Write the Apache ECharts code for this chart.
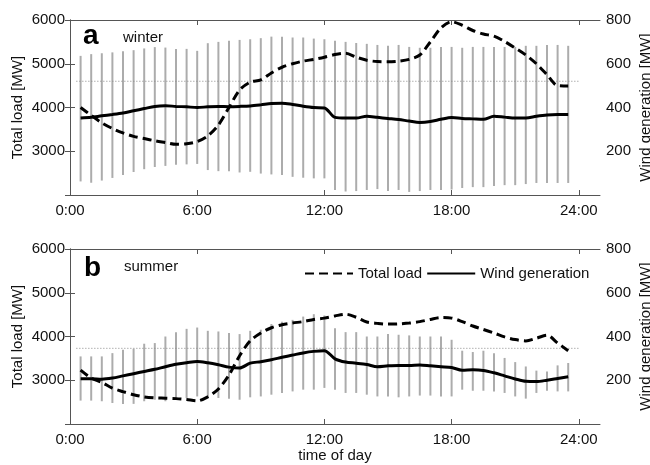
<!DOCTYPE html>
<html>
<head>
<meta charset="utf-8">
<script src="https://cdn.jsdelivr.net/npm/echarts@6/dist/echarts.min.js"></script>
<style>
  html, body { margin: 0; padding: 0; background: #fff; }
  #chart { width: 650px; height: 465px; }
</style>
</head>
<body>
<div id="chart"></div>
<script>
// time of day (h) for every half-hour sample
const hours = [0.5, 1, 1.5, 2, 2.5, 3, 3.5, 4, 4.5, 5, 5.5, 6, 6.5, 7, 7.5, 8, 8.5, 9, 9.5, 10,
  10.5, 11, 11.5, 12, 12.5, 13, 13.5, 14, 14.5, 15, 15.5, 16, 16.5, 17, 17.5, 18, 18.5, 19, 19.5,
  20, 20.5, 21, 21.5, 22, 22.5, 23, 23.5]
const timeTicks = [0, 6, 12, 18, 24]

// winter
const winterLoad = [4000, 3820, 3650, 3520, 3420, 3340, 3290, 3240, 3200, 3160, 3170, 3220, 3350,
  3600, 4000, 4400, 4580, 4630, 4790, 4920, 5000, 5060, 5100, 5150, 5210, 5240, 5150, 5080, 5050,
  5045, 5060, 5100, 5200, 5500, 5820, 5960, 5880, 5760, 5680, 5630, 5510, 5360, 5200, 5000, 4750,
  4500, 4490]
const winterWind = [352, 355, 362, 368, 375, 385, 395, 405, 408, 405, 403, 400, 403, 405, 404, 405,
  407, 412, 418, 420, 414, 406, 400, 398, 355, 352, 352, 360, 355, 350, 345, 338, 332, 336, 346,
  354, 350, 348, 346, 360, 356, 352, 352, 360, 366, 368, 368]
const winterWindHigh = [636, 644, 648, 652, 657, 662, 670, 676, 674, 668, 668, 659, 694, 700, 705,
  709, 712, 717, 724, 724, 720, 720, 715, 712, 705, 700, 695, 691, 686, 682, 686, 677, 673, 673,
  677, 677, 673, 677, 677, 677, 677, 677, 682, 682, 686, 686, 682]
const winterWindLow = [62, 56, 66, 78, 92, 105, 118, 128, 133, 138, 140, 142, 114, 109, 109, 103,
  106, 98, 94, 91, 83, 79, 76, 76, 23, 16, 18, 23, 27, 18, 23, 14, 18, 23, 23, 25, 32, 36, 36, 41,
  45, 45, 50, 55, 55, 55, 55]
const winterRef = 4600

// summer
const summerLoad = [3230, 3050, 2950, 2820, 2740, 2670, 2620, 2596, 2590, 2580, 2560, 2530, 2620,
  2800, 3120, 3560, 3900, 4080, 4200, 4270, 4310, 4340, 4390, 4420, 4470, 4510, 4440, 4330, 4300,
  4283, 4290, 4306, 4340, 4390, 4434, 4420, 4340, 4240, 4160, 4080, 3990, 3930, 3900, 3960, 4030,
  3850, 3674]
const summerWind = [207, 207, 205, 210, 220, 230, 240, 250, 262, 273, 280, 286, 280, 271, 260, 256,
  278, 285, 294, 305, 315, 325, 332, 335, 298, 283, 278, 272, 262, 266, 268, 268, 270, 266, 262,
  258, 246, 248, 245, 234, 220, 206, 195, 194, 200, 208, 216]
const summerWindHigh = [309, 309, 309, 324, 339, 344, 367, 370, 400, 420, 435, 441, 426, 423, 416,
  411, 426, 431, 457, 468, 476, 491, 502, 496, 438, 420, 420, 400, 400, 411, 408, 405, 400, 400,
  400, 385, 335, 329, 335, 324, 302, 283, 263, 244, 240, 268, 279]
const summerWindLow = [107, 107, 104, 96, 92, 92, 104, 111, 104, 119, 119, 126, 126, 119, 116, 111,
  122, 126, 134, 142, 149, 157, 157, 165, 157, 142, 142, 134, 126, 126, 122, 126, 130, 130, 126,
  126, 157, 152, 152, 149, 142, 126, 116, 142, 152, 149, 149]
const summerRef = 3730
const refSpan = [0.3, 24]

const FONT = "'Liberation Sans', Arial, sans-serif"
const frame = '#555'

const chart = echarts.init(document.getElementById('chart'))

const grids = [
  { left: 70, top: 20, width: 530, height: 175 },
  { left: 70, top: 249, width: 530, height: 175 },
]

const xAxes = []
const yAxes = []
grids.forEach((g, i) => {
  xAxes.push({
    type: 'value', gridIndex: i, min: 0, max: 25, position: 'bottom',
    name: i === 1 ? 'time of day' : '', nameLocation: 'middle', nameGap: 21,
    nameTextStyle: { fontFamily: FONT, fontSize: 15, color: '#111' },
    axisLine: { lineStyle: { color: frame } },
    axisTick: { inside: true, length: 5, lineStyle: { color: frame }, customValues: timeTicks },
    axisLabel: {
      customValues: timeTicks, margin: 8, fontFamily: FONT, fontSize: 15, color: '#111',
      formatter: v => v + ':00',
    },
    splitLine: { show: false },
  })
  xAxes.push({
    type: 'value', gridIndex: i, min: 0, max: 25, position: 'top',
    axisLine: { lineStyle: { color: frame } },
    axisTick: { inside: true, length: 5, lineStyle: { color: frame }, customValues: timeTicks },
    axisLabel: { show: false },
    splitLine: { show: false },
  })
  yAxes.push({
    type: 'value', gridIndex: i, min: 2000, max: 6000, interval: 1000, position: 'left',
    name: 'Total load [MW]', nameLocation: 'middle', nameRotate: 90, nameGap: 45,
    nameMoveOverlap: false,
    nameTextStyle: { fontFamily: FONT, fontSize: 15, color: '#111' },
    axisLine: { show: true, lineStyle: { color: frame } },
    axisTick: { show: true, inside: true, length: 5, lineStyle: { color: frame } },
    axisLabel: {
      margin: 5, fontFamily: FONT, fontSize: 15, color: '#111',
      formatter: v => (v === 2000 ? '' : String(v)),
    },
    splitLine: { show: false },
  })
  yAxes.push({
    type: 'value', gridIndex: i, min: 0, max: 800, interval: 200, position: 'right',
    name: 'Wind generation [MW]', nameLocation: 'middle', nameRotate: 90, nameGap: 38,
    nameMoveOverlap: false,
    nameTextStyle: { fontFamily: FONT, fontSize: 15, color: '#111' },
    axisLine: { show: true, lineStyle: { color: frame } },
    axisTick: { show: true, inside: true, length: 5, lineStyle: { color: frame } },
    axisLabel: {
      margin: 6, fontFamily: FONT, fontSize: 15, color: '#111',
      formatter: v => (v === 0 ? '' : String(v)),
    },
    splitLine: { show: false },
  })
})

// vertical grey range bars
const rangeBars = (i, high, low) => ({
  type: 'custom',
  xAxisIndex: i * 2,
  yAxisIndex: i * 2 + 1,
  silent: true,
  data: hours.map((h, k) => [h, low[k], high[k]]),
  encode: { x: 0, y: [1, 2] },
  renderItem: (params, api) => {
    const p1 = api.coord([api.value(0), api.value(1)])
    const p2 = api.coord([api.value(0), api.value(2)])
    return {
      type: 'line',
      shape: { x1: p1[0], y1: p1[1], x2: p2[0], y2: p2[1] },
      style: { stroke: '#acacac', lineWidth: 2 },
    }
  },
  z: 1,
})

const refLine = (i, val) => ({
  type: 'line',
  xAxisIndex: i * 2,
  yAxisIndex: i * 2,
  data: refSpan.map(h => [h, val]),
  symbol: 'none',
  silent: true,
  lineStyle: { color: '#888', width: 1, type: [1, 2] },
  z: 2,
})

const loadLine = (i, data) => ({
  name: 'Total load',
  type: 'line',
  xAxisIndex: i * 2,
  yAxisIndex: i * 2,
  data: hours.map((h, k) => [h, data[k]]),
  symbol: 'none',
  smooth: 0.3,
  lineStyle: { color: '#000', width: 3, type: [9, 5] },
  itemStyle: { color: '#000' },
  z: 3,
})

const windLine = (i, data) => ({
  name: 'Wind generation',
  type: 'line',
  xAxisIndex: i * 2,
  yAxisIndex: i * 2 + 1,
  data: hours.map((h, k) => [h, data[k]]),
  symbol: 'none',
  smooth: 0.3,
  lineStyle: { color: '#000', width: 3 },
  itemStyle: { color: '#000' },
  z: 4,
})

const option = {
  animation: false,
  backgroundColor: '#fff',
  grid: grids.map(g => ({ ...g, show: false, containLabel: false, outerBoundsMode: 'none' })),
  xAxis: xAxes,
  yAxis: yAxes,
  legend: {
    data: ['Total load', 'Wind generation'],
    left: 299,
    top: 261,
    itemWidth: 48,
    itemHeight: 12,
    itemGap: 4,
    itemStyle: { opacity: 0 },
    textStyle: { fontFamily: FONT, fontSize: 15, color: '#111' },
    selectedMode: false,
  },
  graphic: [
    { type: 'text', left: 83, top: 22, style: { text: 'a', font: 'bold 28px ' + FONT, fill: '#000' } },
    { type: 'text', left: 123, top: 30, style: { text: 'winter', font: '15px ' + FONT, fill: '#111' } },
    { type: 'text', left: 84, top: 254, style: { text: 'b', font: 'bold 28px ' + FONT, fill: '#000' } },
    { type: 'text', left: 124, top: 259, style: { text: 'summer', font: '15px ' + FONT, fill: '#111' } },
  ],
  series: [
    rangeBars(0, winterWindHigh, winterWindLow),
    refLine(0, winterRef),
    loadLine(0, winterLoad),
    windLine(0, winterWind),
    rangeBars(1, summerWindHigh, summerWindLow),
    refLine(1, summerRef),
    loadLine(1, summerLoad),
    windLine(1, summerWind),
  ],
}

chart.setOption(option)
</script>
</body>
</html>
